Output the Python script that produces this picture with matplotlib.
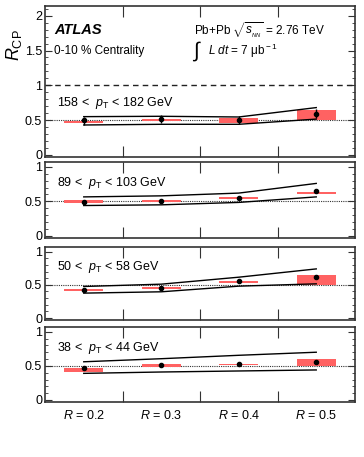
import matplotlib
matplotlib.use('Agg')
import matplotlib.pyplot as plt
import numpy as np

plt.rcParams['font.family'] = ['Liberation Sans', 'DejaVu Sans']
plt.rcParams['mathtext.fontset'] = 'custom'
plt.rcParams['mathtext.rm'] = 'Liberation Sans'
plt.rcParams['mathtext.it'] = 'Liberation Sans:italic'
plt.rcParams['mathtext.bf'] = 'Liberation Sans:bold'

# jet radius categories
radii = ['0.2', '0.3', '0.4', '0.5']
pt_bins = ['158 <  $p_{\\rm T}$ < 182 GeV', '89 <  $p_{\\rm T}$ < 103 GeV',
           '50 <  $p_{\\rm T}$ < 58 GeV', '38 <  $p_{\\rm T}$ < 44 GeV']

# R_CP values per panel
rcp = [[0.495, 0.515, 0.50, 0.59],
       [0.495, 0.51, 0.55, 0.645],
       [0.42, 0.455, 0.555, 0.615],
       [0.47, 0.515, 0.525, 0.56]]
stat_err = [[0.02, 0.055, 0.055, 0.065],
            [0.0, 0.0, 0.0, 0.0],
            [0.0, 0.0, 0.0, 0.0],
            [0.0, 0.0, 0.0, 0.0]]
# systematic boxes (low, high)
syst_lo = [[0.46, 0.485, 0.465, 0.505],
           [0.475, 0.495, 0.535, 0.60],
           [0.405, 0.435, 0.53, 0.49],
           [0.405, 0.49, 0.51, 0.495]]
syst_hi = [[0.49, 0.51, 0.53, 0.64],
           [0.515, 0.525, 0.56, 0.64],
           [0.44, 0.47, 0.56, 0.645],
           [0.47, 0.525, 0.53, 0.60]]
# correlated uncertainty band
band_hi = [[0.55, 0.555, 0.545, 0.68],
           [0.565, 0.58, 0.62, 0.76],
           [0.475, 0.51, 0.615, 0.74],
           [0.56, 0.605, 0.655, 0.70]]
band_lo = [[0.43, 0.44, 0.44, 0.515],
           [0.44, 0.45, 0.485, 0.565],
           [0.375, 0.395, 0.48, 0.515],
           [0.39, 0.41, 0.425, 0.44]]

W, H = 364, 457
fig = plt.figure(figsize=(W / 100, H / 100), dpi=100)

# panel extents in pixels (top, bottom)
panels_px = [(6, 157), (162, 238), (247, 320), (327, 402)]
left_px, right_px = 45, 355
label_y = [1 - (103 - 6) / 151, 0.72, 0.72, 0.72]

x = np.arange(len(radii)) + 0.5
spine_col = '#333333'

axes = []
for i, (t, b) in enumerate(panels_px):
    ax = fig.add_axes([left_px / W, 1 - b / H, (right_px - left_px) / W, (b - t) / H])
    axes.append(ax)
    ax.set_xlim(0, 4)
    if i == 0:
        ax.set_ylim(-0.03, 2.14)
        ax.set_yticks([0, 0.5, 1, 1.5, 2])
        ax.set_yticklabels(['0', '0.5', '1', '1.5', '2'])
        ax.axhline(1, color='#222222', ls=(0, (4, 3)), lw=1.0)
    else:
        ax.set_ylim(-0.03, 1.07)
        ax.set_yticks([0, 0.5, 1])
        ax.set_yticklabels(['0', '0.5', '1'])
    ax.set_yticks(np.arange(0, ax.get_ylim()[1], 0.1), minor=True)
    ax.set_xticks([1, 2, 3])
    ax.set_xticklabels([])
    ax.tick_params(axis='y', which='major', direction='in', length=5, width=0.8,
                   left=True, right=True, labelsize=9, pad=2, color=spine_col)
    ax.tick_params(axis='y', which='minor', direction='in', length=2.5, width=0.6,
                   left=True, right=True, color=spine_col)
    ax.tick_params(axis='x', which='major', direction='in', length=8, width=0.8,
                   top=True, bottom=True, color=spine_col)
    for s in ax.spines.values():
        s.set_color(spine_col)
        s.set_linewidth(1.2)

    ax.axhline(0.5, color='#333333', ls=(0, (1, 1)), lw=0.8, zorder=1)

    # systematic boxes
    lo = np.array(syst_lo[i])
    hi = np.array(syst_hi[i])
    ax.bar(x, hi - lo, bottom=lo, width=0.5, color='#ff6262', lw=0, zorder=2)

    # correlated band
    ax.plot(x, band_hi[i], color='black', lw=1.0, zorder=3)
    ax.plot(x, band_lo[i], color='black', lw=1.0, zorder=3)
    if i == 0:
        ax.vlines(x[0], band_lo[i][0], band_hi[i][0], color='black', lw=1.0, zorder=3)

    ax.errorbar(x, rcp[i], yerr=stat_err[i], fmt='o', color='black', ms=3,
                elinewidth=1.0, capsize=0, zorder=4)

    ax.text(0.04, label_y[i], pt_bins[i], transform=ax.transAxes, fontsize=9,
            va='center', ha='left')

# bottom x labels
ax = axes[-1]
ax.set_xticks(x, minor=True)
ax.set_xticklabels(['$R$ = ' + r for r in radii], minor=True)
ax.tick_params(axis='x', which='minor', length=0, labelsize=9, pad=5)

# top panel annotations
a0 = axes[0]
a0.text(0.03, 0.84, 'ATLAS', transform=a0.transAxes, fontsize=10.5,
        fontweight='bold', fontstyle='italic', va='center')
a0.text(0.03, 0.705, '0-10 % Centrality', transform=a0.transAxes, fontsize=8.5,
        va='center')
a0.text(0.48, 0.84, r'Pb+Pb $\sqrt{s_{_{NN}}}$ = 2.76 TeV', transform=a0.transAxes,
        fontsize=8.5, va='center')
a0.text(0.475, 0.70, r'$\int$', transform=a0.transAxes, fontsize=15,
        va='center', ha='left')
a0.text(0.525, 0.705, r'$L$ $dt$ = 7 μb$^{\rm -1}$', transform=a0.transAxes,
        fontsize=8.5, va='center')

fig.text(14 / W, 1 - 45 / H, r'$R_{\rm CP}$', rotation=90, fontsize=13,
         ha='center', va='center')

fig.savefig('out.png', dpi=100)
